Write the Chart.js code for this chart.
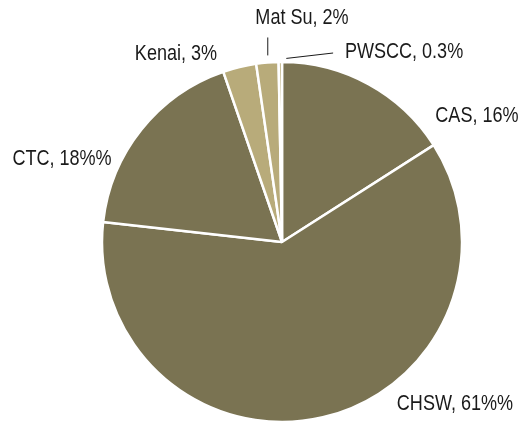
<!DOCTYPE html>
<html>
<head>
<meta charset="utf-8">
<script src="https://cdn.jsdelivr.net/npm/chart.js@4/dist/chart.umd.min.js"></script>
<style>
  html, body { margin: 0; padding: 0; background: #fff; overflow: hidden; }
  #wrap { width: 529px; height: 421px; position: relative; }
</style>
</head>
<body>
<div id="wrap"><canvas id="myChart" width="529" height="421"></canvas></div>
<script>
// data
const regions = ["CAS", "CHSW", "CTC", "Kenai", "Mat Su", "PWSCC"];
const shares = [16, 61, 18, 3, 2, 0.3];
const labelTexts = ["CAS, 16%", "CHSW, 61%%", "CTC, 18%%", "Kenai, 3%", "Mat Su, 2%", "PWSCC, 0.3%"];
const sliceColors = ["#7a7352", "#7a7352", "#7a7352", "#b8ab7a", "#b8ab7a", "#b8ab7a"];

// where each label sits, in units of the pie radius from the centre
const labelSpots = [
  [1.083, -0.70], [0.961, 0.90], [-1.222, -0.461],
  [-0.589, -1.044], [0.111, -1.244], [0.678, -1.056]
];

const pieLabels = {
  id: 'pieLabels',
  afterDatasetsDraw(chart) {
    const ctx = chart.ctx;
    const arcs = chart.getDatasetMeta(0).data;
    const cx = arcs[0].x, cy = arcs[0].y, r = arcs[0].outerRadius;
    ctx.save();
    ctx.font = '22px "Liberation Sans", Arial, sans-serif';
    ctx.fillStyle = '#1a1a1a';
    ctx.textAlign = 'center';
    ctx.textBaseline = 'middle';
    labelTexts.forEach((t, i) => {
      const [fx, fy] = labelSpots[i];
      // squeeze the text sideways to look like a narrow face
      ctx.save();
      ctx.translate(cx + fx * r, cy + fy * r);
      ctx.scale(0.82, 1);
      ctx.fillText(t, 0, 0);
      ctx.restore();
    });
    // leader lines for the two thin slices
    ctx.strokeStyle = '#1a1a1a';
    ctx.lineWidth = 1;
    const mat = arcs[4], pw = arcs[5];
    let mid = (mat.startAngle + mat.endAngle) / 2;
    ctx.beginPath();
    ctx.moveTo(cx + Math.cos(mid) * r * 1.04 + 1, cy + Math.sin(mid) * r * 1.04);
    ctx.lineTo(cx + Math.cos(mid) * r * 1.04 + 1, cy + Math.sin(mid) * r * 1.14);
    ctx.stroke();
    mid = (pw.startAngle + pw.endAngle) / 2;
    ctx.beginPath();
    ctx.moveTo(cx + Math.cos(mid) * r + 6, cy + Math.sin(mid) * r * 1.02);
    ctx.lineTo(cx + 0.284 * r, cy - 1.05 * r);
    ctx.stroke();
    ctx.restore();
  }
};

new Chart("myChart", {
  type: "pie",
  data: {
    labels: regions,
    datasets: [{
      data: shares,
      backgroundColor: sliceColors,
      borderColor: "#ffffff",
      borderWidth: 2.5,
      radius: 180
    }]
  },
  options: {
    responsive: false,
    animation: false,
    layout: { padding: { top: 63, bottom: 0, left: 35, right: 0 } },
    plugins: {
      legend: { display: false },
      tooltip: { enabled: false }
    }
  },
  plugins: [pieLabels]
});
</script>
</body>
</html>
